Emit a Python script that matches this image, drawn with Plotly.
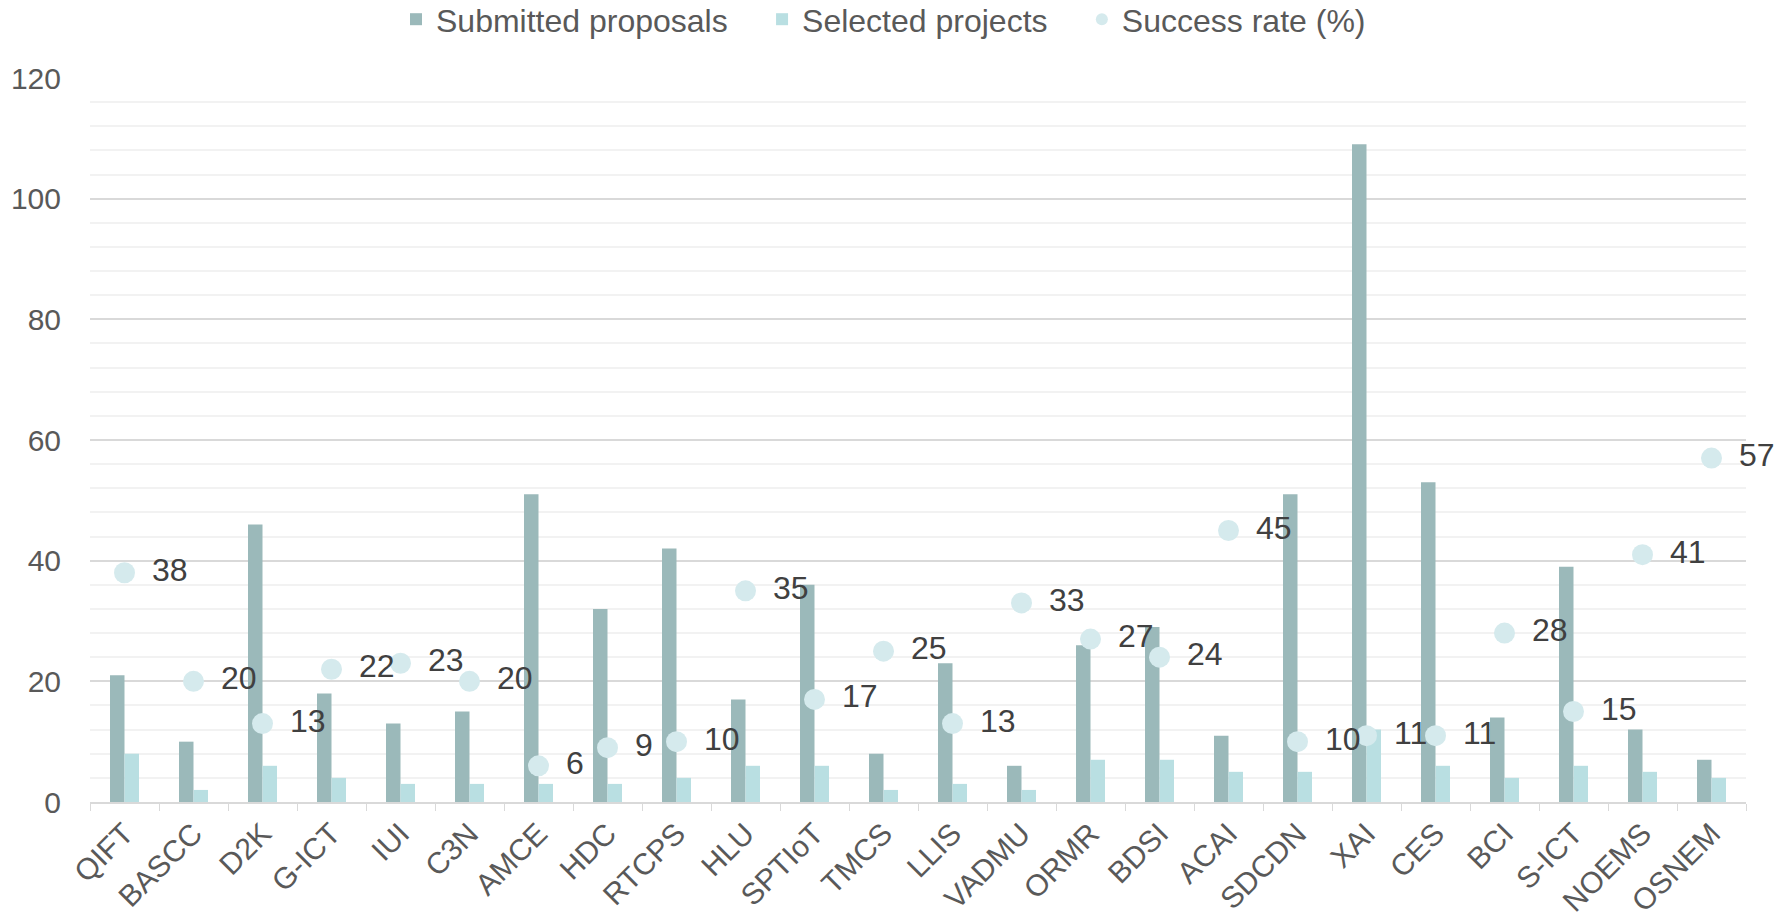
import plotly.graph_objects as go

categories = ["QIFT", "BASCC", "D2K", "G-ICT", "IUI", "C3N", "AMCE", "HDC", "RTCPS", "HLU",
              "SPTIoT", "TMCS", "LLIS", "VADMU", "ORMR", "BDSI", "ACAI", "SDCDN", "XAI", "CES",
              "BCI", "S-ICT", "NOEMS", "OSNEM"]
submitted = [21, 10, 46, 18, 13, 15, 51, 32, 42, 17, 36, 8, 23, 6, 26, 29, 11, 51, 109, 53, 14, 39, 12, 7]
selected = [8, 2, 6, 4, 3, 3, 3, 3, 4, 6, 6, 2, 3, 2, 7, 7, 5, 5, 12, 6, 4, 6, 5, 4]
success_rate = [38, 20, 13, 22, 23, 20, 6, 9, 10, 35, 17, 25, 13, 33, 27, 24, 45, 10, 11, 11, 28, 15, 41, 57]

FONT = "Liberation Sans, Arial, sans-serif"
FS_TICK = 30
FS_XTICK = 30
FS_TEXT = 32
PAD = "\u00a0" * 3 + "\u200a"

fig = go.Figure()
fig.add_trace(go.Bar(name="Submitted proposals" + PAD, x=categories, y=submitted,
                     marker=dict(color="#9bb9ba", line=dict(width=0))))
fig.add_trace(go.Bar(name="Selected projects" + PAD, x=categories, y=selected,
                     marker=dict(color="#b9dfe2", line=dict(width=0))))
fig.add_trace(go.Scatter(name="Success rate (%)", x=categories, y=success_rate,
                         mode="markers+text", text=[f"\u2004\u200a{v}" for v in success_rate],
                         textposition="middle right",
                         textfont=dict(family=FONT, size=FS_TEXT, color="#404040"),
                         marker=dict(color="#d5eaed", size=21, line=dict(width=0)),
                         cliponaxis=False))

fig.update_layout(
    width=1787, height=924,
    paper_bgcolor="white", plot_bgcolor="white",
    font=dict(family=FONT, size=FS_TICK, color="#595959"),
    margin=dict(l=90, r=41, t=78, b=122, autoexpand=False),
    barmode="group", bargap=0.58, bargroupgap=0,
    legend=dict(orientation="h", x=0.4944, xanchor="center", xref="container",
                y=0.979, yanchor="middle", yref="container",
                font=dict(family=FONT, size=FS_TEXT, color="#595959"),
                itemsizing="constant", tracegroupgap=0),
    showlegend=True,
)
fig.update_xaxes(type="category", range=[-0.5, len(categories) - 0.5], autorange=False,
                 tickangle=-45, showgrid=False,
                 showline=True, linecolor="#d9d9d9", linewidth=2,
                 ticks="outside", tickson="boundaries", ticklen=7, tickcolor="#d9d9d9",
                 tickfont=dict(family=FONT, size=FS_XTICK, color="#595959"), automargin=False)
fig.update_yaxes(range=[0, 120], autorange=False, dtick=20, showgrid=True, gridcolor="#d9d9d9", gridwidth=2,
                 minor=dict(dtick=4, showgrid=True, gridcolor="#f2f2f2", gridwidth=2),
                 zeroline=False, showline=False, ticks="", ticklabelstandoff=28,
                 tickfont=dict(family=FONT, size=FS_TICK, color="#595959"), automargin=False)

fig.write_html("out.html", config={"displayModeBar": False},
               post_script="document.body.style.margin='0';document.body.style.overflow='hidden';")
